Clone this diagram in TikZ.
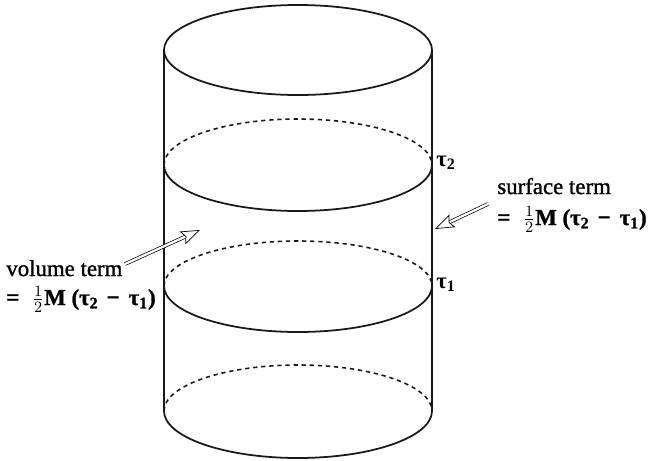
\documentclass[tikz,border=0pt]{standalone}
\usepackage{fontspec}
\setmainfont{Liberation Serif}
\newfontfamily\inkfont[FakeBold=1.2]{Liberation Serif}
\usetikzlibrary{arrows.meta, positioning}
\tikzset{
  rim/.style={line width=1pt, black!90},
  hidden/.style={line width=0.9pt, black!90, dash pattern=on 2.4pt off 2.2pt},
  hollowarrow/.style={line width=0.4pt, double, double distance=1.3pt,
    -{Stealth[open, fill=white, length=11pt, width=8pt, inset=2pt, line width=0.4pt]}},
  termlabel/.style={font=\fontsize{13}{15}\selectfont\inkfont, inner sep=0pt, anchor=base west},
  taulabel/.style={font=\fontsize{13}{15}\selectfont\bfseries, inner sep=0pt},
}
\newcommand{\halfmass}{\textbf{=}\hspace{0.55em}$\frac{1}{2}$\textbf{M}\hspace{0.25em}\textbf{(τ\textsubscript{2}}\hspace{0.35em}\textbf{−}\hspace{0.4em}\textbf{τ\textsubscript{1})}}
\begin{document}
\begin{tikzpicture}[x=0.02cm, y=-0.02cm]
  \useasboundingbox (0,0) rectangle (649,460);

  % Top
  \draw[rim] (298,50) ellipse (134 and 45);

  % Sides
  \draw[rim] (164,50) -- (164,411);
  \draw[rim] (432,50) -- (432,411);

  % Level tau_2
  \draw[rim] (164,165) arc (180:0:134 and 46);
  \draw[hidden] (164,165) arc (180:360:134 and 46);

  % Level tau_1
  \draw[rim] (164,286) arc (180:0:134 and 46);
  \draw[hidden] (164,286) arc (180:360:134 and 45);

  % Bottom
  \draw[rim] (164,411) arc (180:0:134 and 47);
  \draw[hidden] (164,411) arc (180:360:134 and 46);

  % Labels
  \node[taulabel] (tautwo) at (446,163) {τ\textsubscript{2}};
  \node[taulabel] (tauone) at (446,285) {τ\textsubscript{1}};
  \node[termlabel] (volume) at (6,276) {volume term};
  \node[termlabel] (volumeeq) at (6,305) {\halfmass};
  \node[termlabel] (surface) at (497,194) {surface term};
  \node[termlabel] (surfaceeq) at (497,225) {\halfmass};

  % Arrows
  \coordinate (volumetip) at (200,230);
  \coordinate (surfacetip) at (435,229);
  \draw[hollowarrow] (125,264) -- (volumetip);
  \draw[hollowarrow] (488,204) -- (surfacetip);
\end{tikzpicture}
\end{document}
